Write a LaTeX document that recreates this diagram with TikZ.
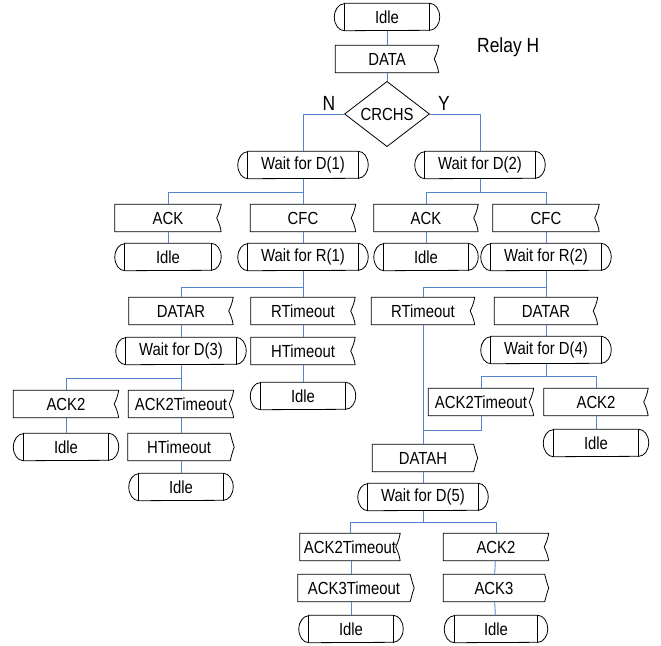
\documentclass[tikz,border=0pt]{standalone}
\usepackage{fontspec}
\setmainfont{Liberation Sans}[FakeStretch=0.85]
\usetikzlibrary{shapes.geometric}

\definecolor{linkblue}{RGB}{84,133,204}

\tikzset{
  shapeline/.style={draw=black, line width=0.8pt},
  conn/.style={draw=linkblue, line width=0.9pt},
  % SDL state: box with rounded ends and an inner bar at each end
  statebox/.style={inner sep=0pt, minimum height=27pt, minimum width=#1,
    append after command={\pgfextra{\let\shpnode\tikzlastnode
      \draw[shapeline] ([xshift=10pt]\shpnode.north west) -- ([xshift=-10pt]\shpnode.north east)
        arc[start angle=90, end angle=-90, x radius=10pt, y radius=13.5pt]
        -- ([xshift=10pt]\shpnode.south west)
        arc[start angle=270, end angle=90, x radius=10pt, y radius=13.5pt] -- cycle;
      \draw[shapeline] ([xshift=10pt]\shpnode.north west) -- ([xshift=10pt]\shpnode.south west)
        ([xshift=-10pt]\shpnode.north east) -- ([xshift=-10pt]\shpnode.south east);
    }}},
  statebox/.default=105pt,
  % SDL input: right side notched inwards
  inbox/.style={inner sep=0pt, minimum height=27pt, minimum width=#1,
    append after command={\pgfextra{\let\shpnode\tikzlastnode
      \draw[shapeline] (\shpnode.south east) -- (\shpnode.south west)
        -- (\shpnode.north west) -- (\shpnode.north east)
        to[out=-100,in=65] ([xshift=-4.5pt]\shpnode.east)
        to[out=-65,in=100] (\shpnode.south east);
    }}},
  inbox/.default=105pt,
  % SDL output: right side bulging outwards
  outbox/.style={inner sep=0pt, minimum height=27pt, minimum width=#1,
    append after command={\pgfextra{\let\shpnode\tikzlastnode
      \draw[shapeline] (\shpnode.south east) -- (\shpnode.south west)
        -- (\shpnode.north west) -- (\shpnode.north east)
        to[out=-75,in=110] ([xshift=4pt]\shpnode.east)
        to[out=-110,in=75] (\shpnode.south east);
    }}},
  outbox/.default=101pt,
  decision/.style={diamond, shapeline, inner sep=0pt, minimum width=85pt, minimum height=54pt},
  biglabel/.style={font=\fontsize{20.5}{22}\selectfont, inner sep=0pt},
}

\begin{document}
\begin{tikzpicture}[x=1pt, y=1pt, every node/.style={font=\fontsize{17.5}{19}\selectfont}]
\useasboundingbox (0,0) rectangle (661,-645);

% top of the chart
\node[statebox] (idle0) at (387,-17) {Idle};
\node[inbox=103pt] (data) at (387,-59) {DATA};
\node[decision] (crc) at (387,-114) {CRCHS};
\node[biglabel, anchor=base] (lblN) at (329,-110) {N};
\node[biglabel, anchor=base] (lblY) at (444,-110) {Y};
\node[biglabel, anchor=base west] (relay) at (477,-52) {Relay H};

% branch N
\node[statebox=130pt] (waitd1) at (303,-165) {Wait for D(1)};
\node[inbox=106pt] (acka) at (168,-218) {ACK};
\node[statebox=106pt] (idlea) at (168,-257) {Idle};
\node[inbox] (cfca) at (303,-218) {CFC};
\node[statebox=130pt] (waitr1) at (303,-257) {Wait for R(1)};
\node[inbox=104pt] (datara) at (181,-311) {DATAR};
\node[statebox=130pt] (waitd3) at (181,-351) {Wait for D(3)};
\node[inbox=104pt] (rtoa) at (303,-311) {RTimeout};
\node[inbox=104pt] (htoa) at (303,-351) {HTimeout};
\node[statebox] (idlec) at (303,-396) {Idle};
\node[inbox] (ack2a) at (66,-404) {ACK2};
\node[statebox] (idled) at (66,-447) {Idle};
\node[inbox] (ack2ta) at (181,-404) {ACK2Timeout};
\node[outbox=102pt] (htob) at (179,-447) {HTimeout};
\node[statebox=104pt] (idlee) at (181,-487) {Idle};

% branch Y
\node[statebox=130pt] (waitd2) at (480,-165) {Wait for D(2)};
\node[inbox=104pt] (ackb) at (426,-218) {ACK};
\node[statebox=104pt] (idleb) at (426,-257) {Idle};
\node[inbox=106pt] (cfcb) at (546,-218) {CFC};
\node[statebox=130pt] (waitr2) at (546,-257) {Wait for R(2)};
\node[inbox=103pt] (rtob) at (423,-311) {RTimeout};
\node[inbox=103pt] (datarb) at (546,-311) {DATAR};
\node[statebox=130pt] (waitd4) at (546,-350) {Wait for D(4)};
\node[inbox] (ack2tb) at (481,-402) {ACK2Timeout};
\node[inbox=104pt] (ack2b) at (596,-402) {ACK2};
\node[statebox] (idlef) at (596,-443) {Idle};
\node[outbox] (datah) at (423,-458) {DATAH};
\node[statebox=130pt] (waitd5) at (423,-497) {Wait for D(5)};
\node[inbox=100pt] (ack2tc) at (350,-547) {ACK2Timeout};
\node[outbox=112pt] (ack3t) at (354,-588) {ACK3Timeout};
\node[statebox=104pt] (idleg) at (351,-629) {Idle};
\node[inbox] (ack2c) at (496,-547) {ACK2};
\node[outbox] (ack3) at (494,-588) {ACK3};
\node[statebox=103pt] (idleh) at (496,-629) {Idle};

% rails where branches split or merge
\coordinate (railA) at (0,-192);
\coordinate (railB) at (0,-287);
\coordinate (railC) at (0,-378);
\coordinate (railD) at (0,-376);
\coordinate (railE) at (0,-430);
\coordinate (railF) at (0,-522);

% connectors
\draw[conn] (idle0) -- (data);
\draw[conn] (data) -- (crc);
\draw[conn] (crc.west) -| (waitd1.north);
\draw[conn] (crc.east) -| (waitd2.north);

\draw[conn] (waitd1.south) -- (cfca.north);
\draw[conn] (acka.north) |- (railA -| waitd1);
\draw[conn] (acka) -- (idlea);
\draw[conn] (cfca) -- (waitr1);
\draw[conn] (waitr1.south) -- (rtoa.north);
\draw[conn] (datara.north) |- (railB -| waitr1);
\draw[conn] (rtoa) -- (htoa);
\draw[conn] (htoa) -- (idlec);
\draw[conn] (datara) -- (waitd3);
\draw[conn] (waitd3.south) -- (ack2ta.north);
\draw[conn] (ack2a.north) |- (railC -| waitd3);
\draw[conn] (ack2a) -- (idled);
\draw[conn] (ack2ta.south) -- (ack2ta.south |- htob.north);
\draw[conn] (idlee.north) -- (idlee.north |- htob.south);

\draw[conn] (ackb.north) |- (railA -| cfcb) -- (cfcb.north);
\draw[conn] (railA -| cfcb) -- (railA -| waitd2) -- (waitd2.south);
\draw[conn] (ackb) -- (idleb);
\draw[conn] (cfcb) -- (waitr2);
\draw[conn] (rtob.north) |- (railB -| waitr2) -- (waitr2.south);
\draw[conn] (railB -| waitr2) -- (datarb.north);
\draw[conn] (datarb) -- (waitd4);
\draw[conn] (ack2tb.north) |- (railD -| ack2b) -- (ack2b.north);
\draw[conn] (railD -| waitd4) -- (waitd4.south);
\draw[conn] (ack2b) -- (idlef);
\draw[conn] (rtob) -- (datah);
\draw[conn] (ack2tb.south) |- (railE -| rtob);
\draw[conn] (datah) -- (waitd5);
\draw[conn] (ack2tc.north) |- (railF -| ack2c) -- (ack2c.north);
\draw[conn] (railF -| waitd5) -- (waitd5.south);
\draw[conn] (idleg.north) -- (idleg.north |- ack3t.south);
\draw[conn] (ack2tc.south -| idleg) -- (ack3t.north -| idleg);
\draw[conn] (ack2c) -- (ack3);
\draw[conn] (ack3) -- (idleh);
\end{tikzpicture}
\end{document}
